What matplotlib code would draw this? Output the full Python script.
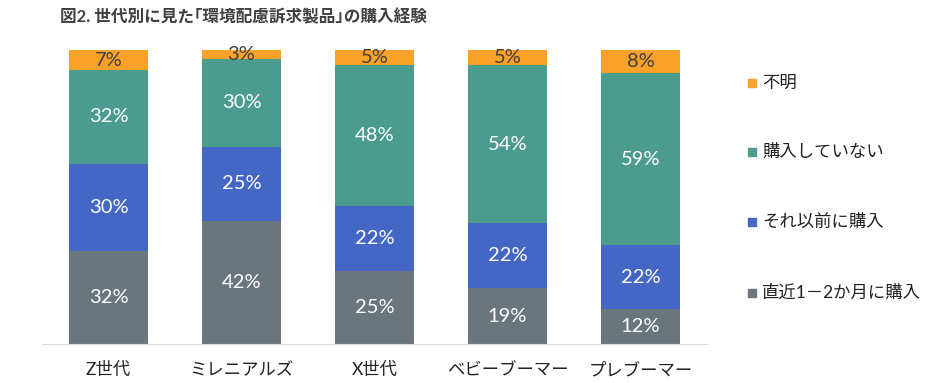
import matplotlib.pyplot as plt
import numpy as np

plt.rcParams['font.family'] = ['Lato', 'Noto Sans CJK JP', 'DejaVu Sans']

categories = ['Z世代', 'ミレニアルズ', 'X世代', 'ベビーブーマー', 'プレブーマー']
series_names = ['直近1－2か月に購入', 'それ以前に購入', '購入していない', '不明']
recent = [32, 42, 25, 19, 12]
earlier = [30, 25, 22, 22, 22]
never = [32, 30, 48, 54, 59]
unknown = [7, 3, 5, 5, 8]
colors = ['#6b767c', '#4466c4', '#4b9c8f', '#f9a128']
text_colors = ['white', 'white', 'white', '#404040']

data = np.array([recent, earlier, never, unknown], dtype=float)
frac = data / data.sum(axis=0) * 100

fig = plt.figure(figsize=(9.4, 3.83), dpi=100)
ax = fig.add_axes([42/940, 39/383, 665/940, 294/383])

x = np.arange(len(categories))
bottom = np.zeros(len(categories))
for i in range(4):
    ax.bar(x, frac[i], 0.59, bottom=bottom, color=colors[i])
    for j in range(len(categories)):
        yc = bottom[j] + frac[i][j] / 2
        ax.text(x[j], yc, f'{int(data[i][j])}%', ha='center', va='center',
                color=text_colors[i], fontsize=14.5)
    bottom += frac[i]

ax.set_xlim(-0.5, 4.5)
ax.set_ylim(0, 100)
ax.set_yticks([])
ax.set_xticks(x)
ax.set_xticklabels(categories, fontsize=12.5, color='#222222')
ax.tick_params(axis='x', length=0, pad=13)
for s in ['top', 'right', 'left']:
    ax.spines[s].set_visible(False)
ax.spines['bottom'].set_color('#d9d9d9')

# legend drawn top to bottom
leg_y = [83, 152, 222, 293]
for k, idx in enumerate([3, 2, 1, 0]):
    yy = 1 - leg_y[k] / 383
    fig.patches.append(plt.Rectangle((748/940, yy - 4/383), 8/940, 8/383,
                                     transform=fig.transFigure, color=colors[idx]))
    fig.text(762/940, yy, series_names[idx], fontsize=12.5, va='center',
             color='#222222')

fig.text(60/940, 1 - 17/383, '図2. 世代別に見た｢環境配慮訴求製品｣の購入経験',
         fontsize=12, fontweight='bold', color='#404040', va='center')

fig.savefig('out.png', dpi=100)
